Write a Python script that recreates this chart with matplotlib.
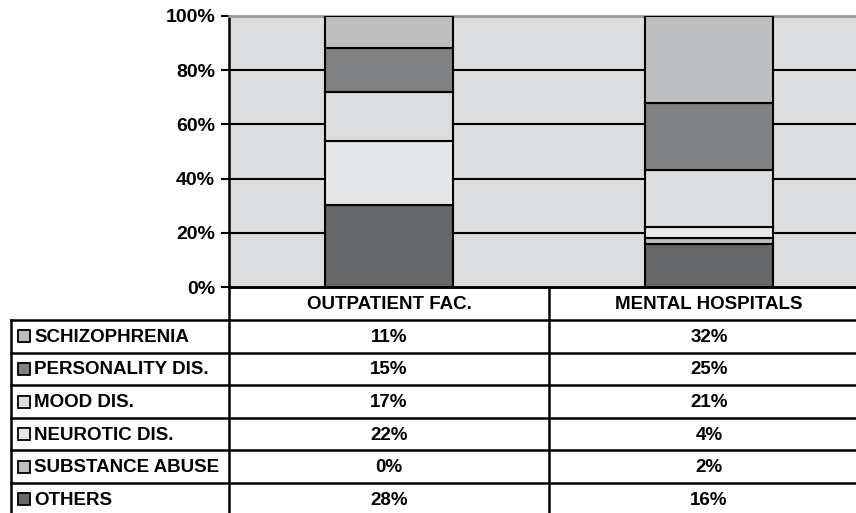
import numpy as np
import matplotlib
matplotlib.use("Agg")
from matplotlib import pyplot as plt
from matplotlib.patches import Rectangle

plt.rcParams["font.family"] = ["Liberation Sans", "DejaVu Sans"]
plt.rcParams["font.weight"] = "bold"

categories = ["OUTPATIENT FAC.", "MENTAL HOSPITALS"]
series_names = [
    "SCHIZOPHRENIA",
    "PERSONALITY DIS.",
    "MOOD DIS.",
    "NEUROTIC DIS.",
    "SUBSTANCE ABUSE",
    "OTHERS",
]
schizophrenia = [11, 32]
personality = [15, 25]
mood = [17, 21]
neurotic = [22, 4]
substance = [0, 2]
others = [28, 16]
series_values = [schizophrenia, personality, mood, neurotic, substance, others]
series_colors = ["#bdbec0", "#808183", "#dcdddf", "#e6e7e8", "#bdbec0", "#666769"]
y_ticks = [0, 20, 40, 60, 80, 100]

W, H = 856, 513
fig = plt.figure(figsize=(W / 100, H / 100), dpi=100)

# plot area in pixels
left, right, top, bottom = 229, 869, 16, 287
ax = fig.add_axes([left / W, 1 - bottom / H, (right - left) / W, (bottom - top) / H])
ax.set_facecolor("#dcdddf")

values = np.array(series_values, dtype=float)
totals = values.sum(axis=0)
pct = values / totals * 100
x = np.arange(len(categories))

# stack from the bottom: others first, schizophrenia on top
base = np.zeros(len(categories))
for i in range(len(series_names) - 1, -1, -1):
    ax.bar(x, pct[i], bottom=base, width=0.4, color=series_colors[i],
           edgecolor="black", linewidth=1.5, zorder=3)
    base += pct[i]

for t in y_ticks[1:-1]:
    ax.axhline(t, color="black", lw=1.5, zorder=1)

ax.set_xlim(-0.5, 1.5)
ax.set_ylim(0, 100)
ax.set_yticks(y_ticks)
ax.set_yticklabels([f"{t}%" for t in y_ticks], fontsize=14, fontweight="bold")
ax.set_xticks([])
ax.tick_params(axis="y", direction="out", length=6, width=1.5, pad=4)
ax.spines["left"].set_linewidth(1.8)
ax.spines["bottom"].set_linewidth(1.8)
ax.spines["top"].set_color("#999999")
ax.spines["top"].set_linewidth(2)
ax.spines["right"].set_visible(False)

# data table below, drawn in pixel coordinates
tb = fig.add_axes([0, 0, 1, 1], zorder=5)
tb.set_xlim(0, W)
tb.set_ylim(H, 0)
tb.axis("off")
tb.patch.set_alpha(0)

tab_left = 11
col_edges = [left, 549, right]
header_bottom = 320
row_h = 32.6
lw = 1.8

tb.plot([left, W], [bottom, bottom], color="black", lw=lw)
for k in range(len(series_names) + 1):
    y = header_bottom + k * row_h
    tb.plot([tab_left, W], [y, y], color="black", lw=lw)
tb.plot([tab_left, tab_left], [header_bottom, H + 5], color="black", lw=lw)
for xe in col_edges[:-1]:
    tb.plot([xe, xe], [bottom, H + 5], color="black", lw=lw)

col_centers = [(col_edges[j] + col_edges[j + 1]) / 2 for j in range(len(categories))]
for j, cat in enumerate(categories):
    tb.text(col_centers[j], (bottom + header_bottom) / 2 + 1, cat, ha="center",
            va="center", fontsize=13.5, fontweight="bold")

for i, name in enumerate(series_names):
    yc = header_bottom + (i + 0.5) * row_h
    tb.add_patch(Rectangle((18, yc - 6), 12, 12, facecolor=series_colors[i],
                           edgecolor="black", lw=1.3))
    tb.text(34, yc + 1, name, ha="left", va="center", fontsize=13.5,
            fontweight="bold")
    for j in range(len(categories)):
        tb.text(col_centers[j], yc + 1, f"{series_values[i][j]}%", ha="center",
                va="center", fontsize=13.5, fontweight="bold")

fig.savefig("out.png", dpi=100)
